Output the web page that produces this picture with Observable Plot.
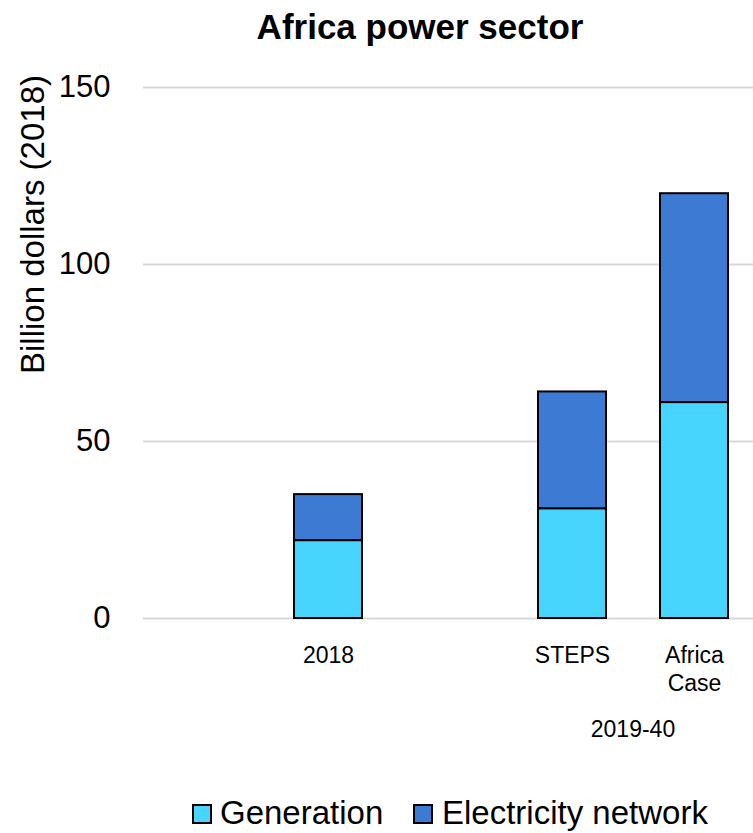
<!DOCTYPE html>
<html>
<head>
<meta charset="utf-8">
<script src="https://cdn.jsdelivr.net/npm/d3@7"></script>
<script src="https://cdn.jsdelivr.net/npm/@observablehq/plot@0.6"></script>
<style>
  html, body { margin: 0; padding: 0; background: #fff; }
  #wrap { position: relative; width: 753px; height: 833px; font-family: "Liberation Sans", Arial, sans-serif; color: #000; }
  #wrap svg { position: absolute; left: 0; top: 0; }
  .abs { position: absolute; line-height: 1; white-space: nowrap; }
  #title { left: 0; width: 840px; top: 9px; text-align: center; font-weight: bold; font-size: 35px; }
  #ylabel { left: -168px; top: 208px; width: 400px; height: 33px; text-align: center; font-size: 33px; transform: rotate(-90deg); }
  #group { left: 533px; width: 200px; top: 718px; text-align: center; font-size: 23px; }
  .sw { position: absolute; width: 16px; height: 16px; border: 2px solid #000; top: 804px; }
  .lg { font-size: 33px; top: 796px; }
</style>
</head>
<body>
<div id="wrap">
  <div id="title" class="abs">Africa power sector</div>
  <div id="ylabel" class="abs">Billion dollars (2018)</div>
  <div id="group" class="abs">2019-40</div>
</div>
<script>
// Investment by case, billion dollars (2018)
const categories = ["2018", "STEPS", "Africa Case"];
const generation = [22, 31, 61];
const network = [13, 33, 59];
const series = ["Generation", "Electricity network"];
const colors = ["#47d4fd", "#3c7ad3"];
const yTicks = [0, 50, 100, 150];
// band slots, with empty spacers before 2018 and between 2018 and 2019-40
const xSlots = ["gap-a", "2018", "gap-b", "STEPS", "Africa Case"];

const rows = [];
categories.forEach((c, i) => {
  rows.push({category: c, series: series[0], value: generation[i]});
  rows.push({category: c, series: series[1], value: network[i]});
});

const chart = Plot.plot({
  width: 753,
  height: 833,
  marginTop: 87,
  marginBottom: 215,
  marginLeft: 143,
  marginRight: 0,
  style: {fontFamily: "'Liberation Sans', Arial, sans-serif", background: "transparent", color: "#000"},
  x: {domain: xSlots, paddingInner: 0.44, paddingOuter: 0.21, align: 0.548, label: null},
  y: {domain: [0, 150], label: null},
  color: {domain: series, range: colors},
  marks: [
    Plot.gridY(yTicks, {stroke: "#d9d9d9", strokeOpacity: 1, strokeWidth: 2}),
    Plot.axisY(yTicks, {tickSize: 0, tickPadding: 33, fontSize: 31, label: null}),
    Plot.axisX(categories, {tickSize: 0, tickPadding: 25, fontSize: 23, lineHeight: 1.2,
      tickFormat: d => d.replace(" ", "\n"), label: null}),
    Plot.barY(rows, {x: "category", y: "value", fill: "series", stroke: "#000", strokeWidth: 2, order: series})
  ]
});

const wrap = document.getElementById("wrap");
wrap.insertBefore(chart, wrap.firstChild);

// legend below the chart
const legendItems = [
  {label: series[0], color: colors[0], box: 192, text: 220},
  {label: series[1], color: colors[1], box: 413, text: 442}
];
for (const it of legendItems) {
  const sw = document.createElement("div");
  sw.className = "sw";
  sw.style.left = it.box + "px";
  sw.style.background = it.color;
  wrap.appendChild(sw);
  const t = document.createElement("div");
  t.className = "abs lg";
  t.style.left = it.text + "px";
  t.textContent = it.label;
  wrap.appendChild(t);
}
</script>
</body>
</html>
